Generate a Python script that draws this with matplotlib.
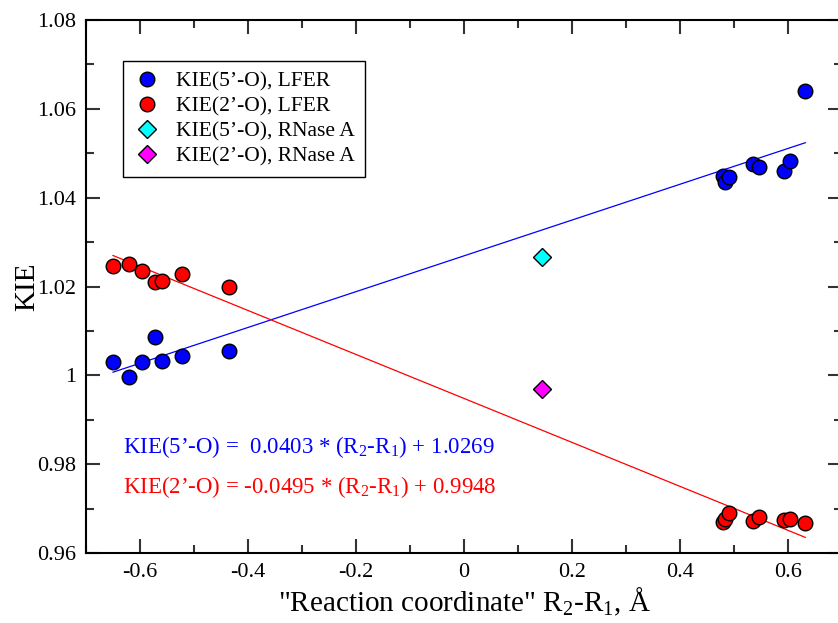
#!/usr/bin/env python
# -*- coding: utf-8 -*-
"""
KIE vs. reaction coordinate, with LFER fits for the 5'-O and 2'-O positions.
"""
import numpy as np
import matplotlib
matplotlib.use("Agg")
import matplotlib.pyplot as plt
from matplotlib.ticker import MultipleLocator, FormatStrFormatter

plt.rcParams['font.family'] = ['Liberation Serif', 'DejaVu Serif']
plt.rcParams['mathtext.fontset'] = 'custom'
plt.rcParams['mathtext.rm'] = 'Liberation Serif'
plt.rcParams['mathtext.it'] = 'Liberation Serif:italic'

# reaction coordinate R2-R1 (same for both series)
rc = [-0.650, -0.620, -0.596, -0.572, -0.560, -0.522, -0.435,
      0.479, 0.484, 0.490, 0.536, 0.546, 0.592, 0.603, 0.632]
kie5 = [1.0029, 0.9997, 1.0029, 1.0086, 1.0033, 1.0043, 1.0054,
        1.0449, 1.0435, 1.0446, 1.0475, 1.0468, 1.0459, 1.0483, 1.0641]
kie2 = [1.0246, 1.0251, 1.0234, 1.0210, 1.0213, 1.0229, 1.0198,
        0.9670, 0.9676, 0.9691, 0.9672, 0.9682, 0.9674, 0.9676, 0.9667]

# RNase A values
rnase_rc = [0.145]
rnase_kie5 = [1.0267]
rnase_kie2 = [0.9970]

# fit coefficients (slope, intercept)
fit5 = [0.0403, 1.0269]
fit2 = [-0.0495, 0.9948]

W, H = 838, 623
fig = plt.figure(figsize=(W / 100, H / 100), dpi=100)
ax = fig.add_axes([86 / W, 70 / H, 756 / W, 533 / H])

xfit = np.array([min(rc), max(rc)])
ax.plot(xfit, np.polyval(fit5, xfit), c='blue', lw=0.9, zorder=2)
ax.plot(xfit, np.polyval(fit2, xfit), c='red', lw=0.9, zorder=2)

ax.plot(rc, kie5, 'o', ms=10.5, mfc='blue', mec='black', mew=1.0,
        label=u"KIE(5\u2019-O), LFER", zorder=3)
ax.plot(rc, kie2, 'o', ms=10.5, mfc='red', mec='black', mew=1.0,
        label=u"KIE(2\u2019-O), LFER", zorder=3)
ax.plot(rnase_rc, rnase_kie5, 'D', ms=9.5, mfc='cyan', mec='black', mew=1.0,
        label=u"KIE(5\u2019-O), RNase A", zorder=3)
ax.plot(rnase_rc, rnase_kie2, 'D', ms=9.5, mfc='magenta', mec='black', mew=1.0,
        label=u"KIE(2\u2019-O), RNase A", zorder=3)

ax.set_xlim(-0.7, 0.7)
ax.set_ylim(0.96, 1.08)
ax.xaxis.set_major_locator(MultipleLocator(0.2))
ax.xaxis.set_minor_locator(MultipleLocator(0.1))
ax.yaxis.set_major_locator(MultipleLocator(0.02))
ax.yaxis.set_minor_locator(MultipleLocator(0.01))
ax.xaxis.set_major_formatter(FormatStrFormatter('%g'))
ax.yaxis.set_major_formatter(FormatStrFormatter('%g'))
ax.tick_params(which='both', direction='in', top=True, right=True,
               width=1.5, color='#333333', labelsize=16)
ax.tick_params(which='major', length=10, pad=7)
ax.tick_params(which='minor', length=6)
for s in ax.spines.values():
    s.set_linewidth(1.5)

ax.set_xlabel(u'"Reaction coordinate" R$_2$-R$_1$, \u00c5', fontsize=21, labelpad=3)
ax.set_ylabel('KIE', fontsize=21, labelpad=-2)

leg = ax.legend(loc='upper left', bbox_to_anchor=(0.049, 0.923), fontsize=15.5,
                frameon=True, fancybox=False, framealpha=1, edgecolor='black',
                borderaxespad=0, handlelength=1.25, handletextpad=0.7,
                labelspacing=0.22, borderpad=0.5)
leg.get_frame().set_linewidth(1.0)

ax.text(0.049, 0.199, u'KIE(5\u2019-O) =  0.0403 * (R$_2$-R$_1$) + 1.0269',
        transform=ax.transAxes, color='blue', fontsize=16.5, va='center')
ax.text(0.049, 0.124, u'KIE(2\u2019-O) = -0.0495 * (R$_2$-R$_1$) + 0.9948',
        transform=ax.transAxes, color='red', fontsize=16.5, va='center')

fig.savefig('out.png', dpi=100)
